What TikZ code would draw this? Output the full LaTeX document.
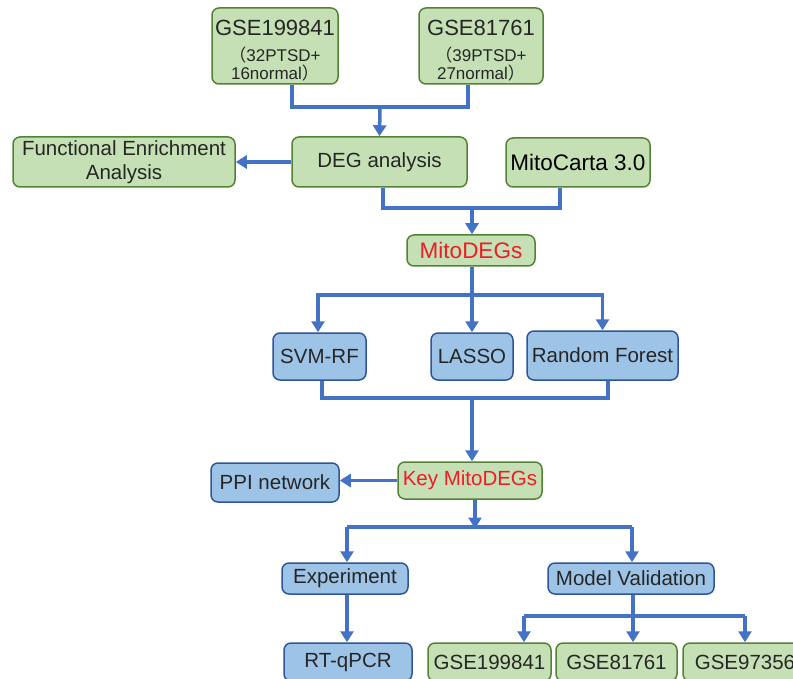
\documentclass[tikz,border=0pt]{standalone}
\usepackage{fontspec}
\setmainfont{Liberation Sans}
\newfontfamily\cjk{Noto Sans CJK SC}
\usetikzlibrary{arrows.meta}
\definecolor{gfill}{HTML}{C5E0B4}
\definecolor{gdraw}{HTML}{548235}
\definecolor{bfill}{HTML}{9DC3E6}
\definecolor{bdraw}{HTML}{2F5597}
\definecolor{conn}{HTML}{4472C4}
\definecolor{redtxt}{HTML}{EE1C25}
\definecolor{txt}{HTML}{262626}
\begin{document}
\begin{tikzpicture}[x=1pt,y=-1pt,
 box/.style={rounded corners=7pt, line width=1.5pt, inner sep=0pt, align=center,
   font=\fontsize{20.5}{24}\selectfont, text=txt},
 gbox/.style={box, fill=gfill, draw=gdraw},
 bbox/.style={box, fill=bfill, draw=bdraw},
 dstext/.style={align=center, inner sep=0pt, text=txt, font=\fontsize{17}{18.5}\selectfont, yshift=-5pt},
 wire/.style={draw=conn, line width=3.5pt},
 arr/.style={wire, -{Triangle[width=13pt,length=11pt]}}]
\useasboundingbox (0,0) rectangle (793,679);
\clip (0,0) rectangle (793,679);

% top datasets
\node[gbox, minimum width=126pt, minimum height=76pt,
  label={[dstext]center:{\fontsize{22}{18.5}\selectfont GSE199841\\[7pt]
   \fontsize{17}{18.5}\selectfont{\cjk （}32PTSD+\\
   \fontsize{17}{18.5}\selectfont 16normal{\cjk ）}}}] (gseA) at (275,46) {};
\node[gbox, minimum width=124pt, minimum height=76pt,
  label={[dstext]center:{\fontsize{22}{18.5}\selectfont GSE81761\\[7pt]
   \fontsize{17}{18.5}\selectfont{\cjk （}39PTSD+\\
   \fontsize{17}{18.5}\selectfont 27normal{\cjk ）}}}] (gseB) at (481,46) {};

\node[gbox, minimum width=175pt, minimum height=50pt] (deg) at (379.5,162) {DEG analysis};
\node[gbox, minimum width=222pt, minimum height=50pt] (fea) at (124,162)
  {Functional Enrichment\\Analysis};
\node[gbox, minimum width=144pt, minimum height=49pt, font=\fontsize{22.5}{26}\selectfont, text=black] (mito) at (578,162.5) {MitoCarta 3.0};
\node[gbox, minimum width=128pt, minimum height=31pt, font=\fontsize{22.5}{26}\selectfont, text=redtxt] (mdeg) at (471,250.5) {MitoDEGs};

% machine learning
\node[bbox, minimum width=93pt, minimum height=47pt] (svm) at (319.5,356.5) {SVM-RF};
\node[bbox, minimum width=82pt, minimum height=47pt] (lasso) at (472,356.5) {LASSO};
\node[bbox, minimum width=151pt, minimum height=49pt] (rf) at (602.5,355.5) {Random Forest};

\node[gbox, minimum width=144pt, minimum height=37pt, text=redtxt] (key) at (470,480.5) {Key MitoDEGs};
\node[bbox, minimum width=128pt, minimum height=39pt] (ppi) at (275,482.5) {PPI network};

\node[bbox, minimum width=126pt, minimum height=31pt] (exp) at (345,578.5) {Experiment};
\node[bbox, minimum width=166pt, minimum height=31pt] (mv) at (631,578.5) {Model Validation};

\node[bbox, minimum width=128pt, minimum height=38pt] (rtq) at (348,662) {RT-qPCR};
\node[gbox, minimum width=123pt, minimum height=38pt] (b1) at (489.5,662) {GSE199841};
\node[gbox, minimum width=121pt, minimum height=38pt] (b2) at (616.5,662) {GSE81761};
\node[gbox, minimum width=124pt, minimum height=38pt] (b3) at (745,662) {GSE97356};

% connectors: datasets -> DEG
\coordinate (j1) at (380,107);
\draw[wire] ([xshift=17pt]gseA.south) |- (j1) -| ([xshift=-13pt]gseB.south);
\draw[arr] (j1) -- (deg.north);
\draw[arr] (deg.west) -- (fea.east);

% DEG + MitoCarta -> MitoDEGs
\coordinate (j2) at (472,208);
\draw[wire] ([xshift=3.5pt]deg.south) |- (j2) -| ([xshift=-18pt]mito.south);
\draw[arr] (j2) -- (j2 |- mdeg.north);

% MitoDEGs -> ML
\coordinate (j3) at (472,295);
\draw[wire] (j3 |- mdeg.south) -- (j3);
\draw[arr] (j3) -| ([xshift=-1.5pt]svm.north);
\draw[arr] (j3) -- (lasso.north);
\draw[arr] (j3) -| (rf.north);

% ML -> Key
\coordinate (j4) at (472,398);
\draw[wire] ([xshift=2.5pt]svm.south) |- (j4) -| ([xshift=5.5pt]rf.south);
\draw[arr] (j4) -- (j4 |- key.north);
\draw[arr] (key.west) -- (key.west -| ppi.east);

% Key -> experiment / validation
\coordinate (j5) at (475,527);
\draw[arr] (j5 |- key.south) -- ([yshift=-1.5pt]j5);
\draw[wire] ([xshift=2pt]exp.north |- j5) -- ([xshift=1pt]mv.north |- j5);
\draw[arr] ([xshift=2pt]exp.north |- j5) -- ([xshift=2pt]exp.north);
\draw[arr] ([xshift=1pt]mv.north |- j5) -- ([xshift=1pt]mv.north);
\draw[arr] ([xshift=2pt]exp.south) -- ([xshift=2pt]exp.south |- rtq.north);

% validation -> datasets
\coordinate (j6) at (633,616);
\draw[wire] (j6 |- mv.south) -- (j6);
\draw[wire] (524,616) coordinate (l6) -- (745,616) coordinate (r6);
\draw[arr] (l6) -- (l6 |- b1.north);
\draw[arr] (j6) -- (j6 |- b2.north);
\draw[arr] (r6) -- (r6 |- b3.north);
\end{tikzpicture}
\end{document}
